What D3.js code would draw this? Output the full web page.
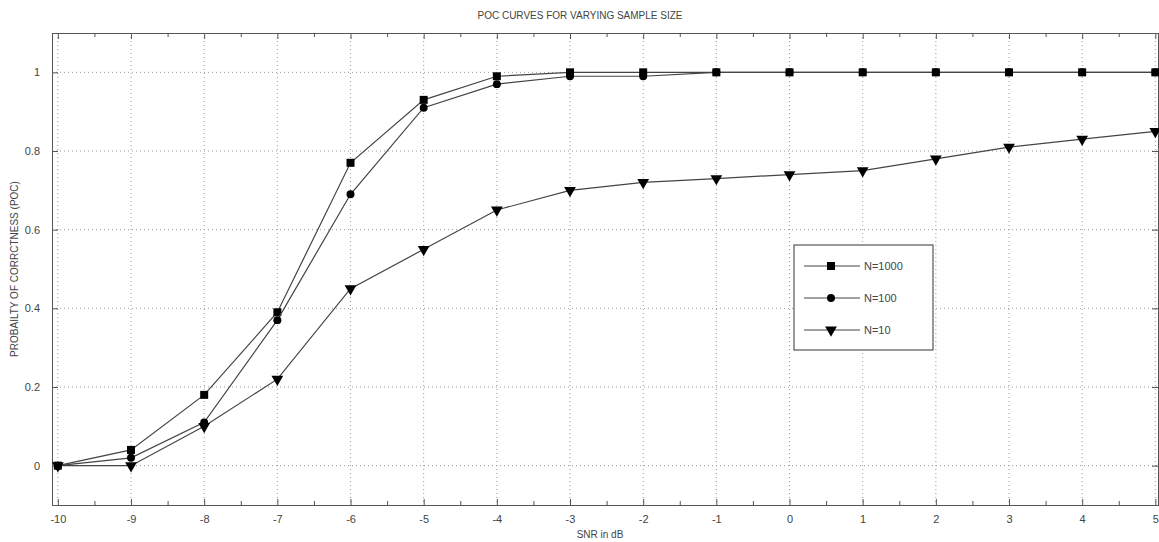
<!DOCTYPE html>
<meta charset="utf-8">
<style>
body { margin: 0; background: #fff; }
text { font-family: 'Liberation Sans', Arial, sans-serif; fill: #444; }
</style>
<script src="https://d3js.org/d3.v7.min.js"></script>
<div id="chart"></div>
<script>
// SNR values (dB) and probability of correctness for each sample size
var snr = [-10, -9, -8, -7, -6, -5, -4, -3, -2, -1, 0, 1, 2, 3, 4, 5];
var poc1000 = [0, 0.04, 0.18, 0.39, 0.77, 0.93, 0.99, 1.0, 1.0, 1.0, 1.0, 1.0, 1.0, 1.0, 1.0, 1.0];
var poc100 = [0, 0.02, 0.11, 0.37, 0.69, 0.91, 0.97, 0.99, 0.99, 1.0, 1.0, 1.0, 1.0, 1.0, 1.0, 1.0];
var poc10 = [0, 0, 0.10, 0.22, 0.45, 0.55, 0.65, 0.70, 0.72, 0.73, 0.74, 0.75, 0.78, 0.81, 0.83, 0.85];
var seriesNames = ["N=1000", "N=100", "N=10"];
var yTicks = [0, 0.2, 0.4, 0.6, 0.8, 1];

var width = 1159, height = 542;
var margin = {top: 33, right: 0, bottom: 37, left: 52};

var svg = d3.select("#chart").append("svg")
  .attr("width", width).attr("height", height);

var x = d3.scaleLinear().domain([-10.08, 5.05]).range([margin.left, width - margin.right]);
var y = d3.scaleLinear().domain([-0.1, 1.1]).range([height - margin.bottom, margin.top]);

// grid
var grid = svg.append("g").attr("stroke", "#999").attr("stroke-dasharray", "1,3").attr("stroke-width", 1);
snr.forEach(function(v) {
  grid.append("line").attr("x1", x(v)).attr("x2", x(v)).attr("y1", y(1.1)).attr("y2", y(-0.1));
});
yTicks.forEach(function(v) {
  grid.append("line").attr("x1", x(-10.08)).attr("x2", x(5.05)).attr("y1", y(v)).attr("y2", y(v));
});

// axes (ticks pointing inward like matlab)
var xBottom = d3.axisBottom(x).tickValues(snr).tickSize(-6).tickPadding(10).tickFormat(function(d) { return String(d); });
var xMinor = d3.axisBottom(x).tickValues(d3.range(-9.5, 5, 1)).tickSize(-4).tickFormat("");
var xTop = d3.axisTop(x).tickValues(snr).tickSize(-6).tickFormat("");
var xTopMinor = d3.axisTop(x).tickValues(d3.range(-9.5, 5, 1)).tickSize(-4).tickFormat("");
var yLeft = d3.axisLeft(y).tickValues(yTicks).tickSize(-6).tickPadding(12).tickFormat(function(d) { return String(d); });
var yRight = d3.axisRight(y).tickValues(yTicks).tickSize(-6).tickFormat("");

function styleAxis(g) {
  g.selectAll("path").attr("stroke", "#555");
  g.selectAll("line").attr("stroke", "#555");
  g.selectAll("text").attr("font-size", 11).attr("fill", "#444");
}
svg.append("g").attr("transform", "translate(0," + y(-0.1) + ")").call(xBottom).call(styleAxis);
svg.append("g").attr("transform", "translate(0," + y(-0.1) + ")").call(xMinor).call(styleAxis);
svg.append("g").attr("transform", "translate(0," + y(1.1) + ")").call(xTop).call(styleAxis);
svg.append("g").attr("transform", "translate(0," + y(1.1) + ")").call(xTopMinor).call(styleAxis);
svg.append("g").attr("transform", "translate(" + x(-10.08) + ",0)").call(yLeft).call(styleAxis);
svg.append("g").attr("transform", "translate(" + (width - 1) + ",0)").call(yRight).call(styleAxis);

// lines and markers
var allSeries = [poc1000, poc100, poc10];
var line = d3.line().x(function(d, i) { return x(snr[i]); }).y(function(d) { return y(d); });
var symbols = [d3.symbolSquare, d3.symbolCircle, d3.symbolTriangle];
var symSize = [64, 50, 60];

allSeries.forEach(function(vals, k) {
  svg.append("path").datum(vals).attr("d", line)
    .attr("fill", "none").attr("stroke", "#444").attr("stroke-width", 1.2);
  svg.append("g").selectAll("path").data(vals).enter().append("path")
    .attr("d", d3.symbol().type(symbols[k]).size(symSize[k]))
    .attr("transform", function(d, i) {
      return "translate(" + x(snr[i]) + "," + y(d) + ")" + (k === 2 ? " rotate(180)" : "");
    })
    .attr("fill", "#000");
});

// legend
var leg = svg.append("g").attr("transform", "translate(794,245)");
leg.append("rect").attr("width", 139).attr("height", 105)
  .attr("fill", "#fff").attr("stroke", "#555").attr("stroke-width", 1.2);
seriesNames.forEach(function(name, k) {
  var ly = 21 + k * 32;
  leg.append("line").attr("x1", 10).attr("x2", 66).attr("y1", ly).attr("y2", ly).attr("stroke", "#444");
  leg.append("path").attr("d", d3.symbol().type(symbols[k]).size(symSize[k]))
    .attr("transform", "translate(37," + ly + ")" + (k === 2 ? " rotate(180)" : ""))
    .attr("fill", "#000");
  leg.append("text").attr("x", 70).attr("y", ly + 4).attr("font-size", 11).text(name);
});

// titles
svg.append("text").attr("x", 580).attr("y", 19).attr("text-anchor", "middle")
  .attr("font-size", 10).text("POC CURVES FOR VARYING SAMPLE SIZE");
svg.append("text").attr("x", 600).attr("y", 538).attr("text-anchor", "middle")
  .attr("font-size", 10).text("SNR in dB");
svg.append("text").attr("transform", "translate(18,269) rotate(-90)").attr("text-anchor", "middle")
  .attr("font-size", 10).text("PROBAILTY OF CORRCTNESS (POC)");
</script>
